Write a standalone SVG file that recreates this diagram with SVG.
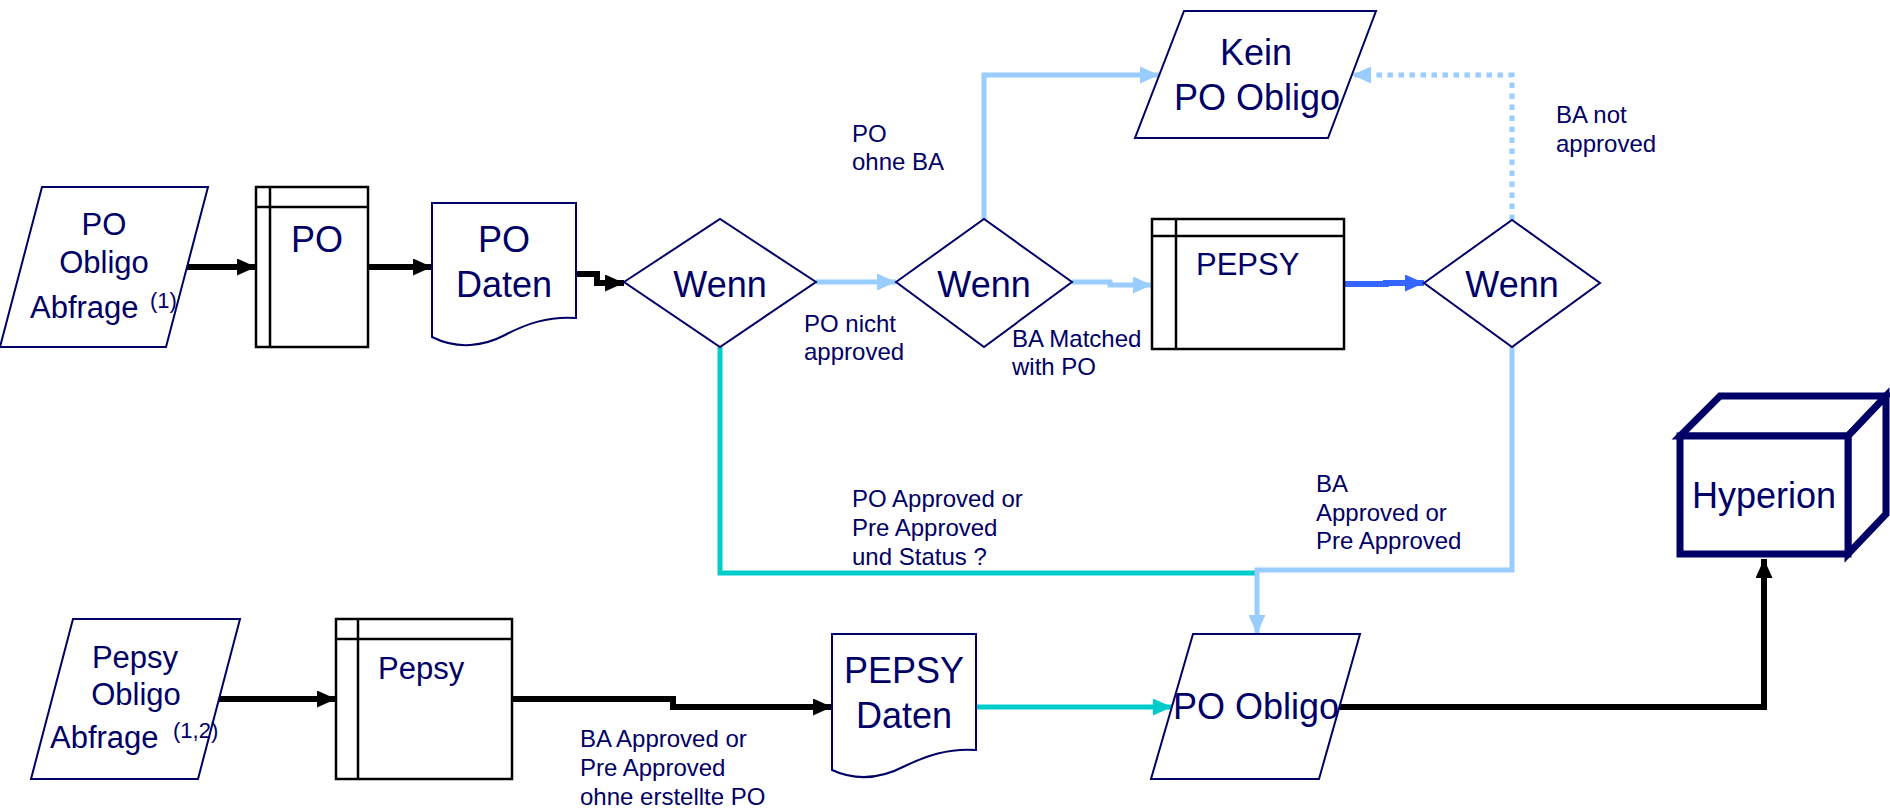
<svg xmlns="http://www.w3.org/2000/svg" width="1890" height="810" viewBox="0 0 1890 810">
<style>
text{font-family:"Liberation Sans",Arial,sans-serif;fill:#000066}
.big{font-size:36px}
.mid{font-size:31px}
.lab{font-size:24px}
.sup{font-size:22px}
.shape{fill:#fff;stroke:#000066;stroke-width:2}
.tbl{fill:#fff;stroke:#000;stroke-width:2.5}
.tl{stroke:#000;stroke-width:2.5;fill:none}
.c{fill:none;stroke-linejoin:miter}
.blk{stroke:#000;stroke-width:6}
.lb{stroke:#99CCFF;stroke-width:5}
.db{stroke:#3366FF;stroke-width:6}
.tq{stroke:#00CCCC;stroke-width:5}
.dot{stroke-dasharray:5.5 5.5}
</style>
<defs>
<marker id="ab" viewBox="0 0 19 17" refX="19" refY="8.5" markerWidth="19" markerHeight="17" markerUnits="userSpaceOnUse" orient="auto"><path d="M0,0 L19,8.5 L0,17 z" fill="#000"/></marker>
<marker id="al" viewBox="0 0 19 17" refX="19" refY="8.5" markerWidth="19" markerHeight="17" markerUnits="userSpaceOnUse" orient="auto"><path d="M0,0 L19,8.5 L0,17 z" fill="#99CCFF"/></marker>
<marker id="ad" viewBox="0 0 19 17" refX="19" refY="8.5" markerWidth="19" markerHeight="17" markerUnits="userSpaceOnUse" orient="auto"><path d="M0,0 L19,8.5 L0,17 z" fill="#3366FF"/></marker>
<marker id="at" viewBox="0 0 19 17" refX="19" refY="8.5" markerWidth="19" markerHeight="17" markerUnits="userSpaceOnUse" orient="auto"><path d="M0,0 L19,8.5 L0,17 z" fill="#00CCCC"/></marker>
</defs>

<g id="connectors">
<path class="c blk" d="M187,267 H256" marker-end="url(#ab)"/>
<path class="c blk" d="M368,267 H432" marker-end="url(#ab)"/>
<path class="c blk" d="M576,274 H597 V283 H624" marker-end="url(#ab)"/>
<path class="c lb" d="M816,282 H896" marker-end="url(#al)"/>
<path class="c lb" d="M1072,282 H1110 V285 H1152" marker-end="url(#al)"/>
<path class="c lb" d="M984,219 V75 H1159" marker-end="url(#al)"/>
<path class="c db" d="M1344,284 H1386 V283 H1424" marker-end="url(#ad)"/>
<path class="c lb dot" d="M1512,220 V75 H1352" marker-end="url(#al)"/>
<path class="c tq" d="M720,347 V573 H1257"/>
<path class="c lb" d="M1512,347 V570 H1257 V634" marker-end="url(#al)"/>
<path class="c blk" d="M219,699 H336" marker-end="url(#ab)"/>
<path class="c blk" d="M512,699 H673 V707 H832" marker-end="url(#ab)"/>
<path class="c tq" d="M976,707 H1172" marker-end="url(#at)"/>
<path class="c blk" d="M1339,707 H1764 V559" marker-end="url(#ab)"/>
</g>

<g id="labels">
<text class="lab" x="804" y="332">PO nicht</text>
<text class="lab" x="804" y="360">approved</text>
<text class="lab" x="852" y="142">PO</text>
<text class="lab" x="852" y="170">ohne BA</text>
<text class="lab" x="1012" y="347">BA Matched</text>
<text class="lab" x="1012" y="375">with PO</text>
<text class="lab" x="1556" y="123">BA not</text>
<text class="lab" x="1556" y="152">approved</text>
<text class="lab" x="852" y="507">PO Approved or</text>
<text class="lab" x="852" y="536">Pre Approved</text>
<text class="lab" x="852" y="565">und Status ?</text>
<text class="lab" x="1316" y="492">BA</text>
<text class="lab" x="1316" y="521">Approved or</text>
<text class="lab" x="1316" y="549">Pre Approved</text>
<text class="lab" x="580" y="747">BA Approved or</text>
<text class="lab" x="580" y="776">Pre Approved</text>
<text class="lab" x="580" y="805">ohne erstellte PO</text>
</g>

<g id="po-obligo-abfrage">
<polygon class="shape" points="42,187 208,187 166,347 0,347"/>
<text class="mid" x="104" y="235" text-anchor="middle">PO</text>
<text class="mid" x="104" y="273" text-anchor="middle">Obligo</text>
<text class="mid" x="30" y="318">Abfrage</text>
<text class="sup" x="150" y="308">(1)</text>
</g>

<g id="po-table">
<rect class="tbl" x="256" y="187" width="112" height="160"/>
<path class="tl" d="M270,187 V347 M256,207 H368"/>
<text class="big" x="317" y="252" text-anchor="middle">PO</text>
</g>

<g id="po-daten">
<path class="shape" d="M432,203 H576 V318 C548,316 526,324 505,335 C484,346 458,350 432,337 Z"/>
<text class="big" x="504" y="252" text-anchor="middle">PO</text>
<text class="big" x="504" y="297" text-anchor="middle">Daten</text>
</g>

<g id="wenn1">
<polygon class="shape" points="624,282 720,219 816,282 720,347"/>
<text class="big" x="720" y="297" text-anchor="middle">Wenn</text>
</g>

<g id="wenn2">
<polygon class="shape" points="896,282 984,219 1072,282 984,347"/>
<text class="big" x="984" y="297" text-anchor="middle">Wenn</text>
</g>

<g id="kein-po-obligo">
<polygon class="shape" points="1184,11 1376,11 1328,138 1135,138"/>
<text class="big" x="1256" y="65" text-anchor="middle">Kein</text>
<text class="big" x="1257" y="110" text-anchor="middle">PO Obligo</text>
</g>

<g id="pepsy-table">
<rect class="tbl" x="1152" y="219" width="192" height="130"/>
<path class="tl" d="M1176,219 V349 M1152,236 H1344"/>
<text class="mid" x="1196" y="275">PEPSY</text>
</g>

<g id="wenn3">
<polygon class="shape" points="1424,283 1512,220 1600,283 1512,347"/>
<text class="big" x="1512" y="297" text-anchor="middle">Wenn</text>
</g>

<g id="pepsy-obligo-abfrage">
<polygon class="shape" points="73,619 240,619 198,779 31,779"/>
<text class="mid" x="135" y="668" text-anchor="middle">Pepsy</text>
<text class="mid" x="136" y="705" text-anchor="middle">Obligo</text>
<text class="mid" x="50" y="748">Abfrage</text>
<text class="sup" x="173" y="738">(1,2)</text>
</g>

<g id="pepsy-table-2">
<rect class="tbl" x="336" y="619" width="176" height="160"/>
<path class="tl" d="M358,619 V779 M336,639 H512"/>
<text class="mid" x="378" y="679">Pepsy</text>
</g>

<g id="pepsy-daten">
<path class="shape" d="M832,634 H976 V750 C948,748 926,756 905,766 C884,777 858,782 832,770 Z"/>
<text class="big" x="904" y="683" text-anchor="middle">PEPSY</text>
<text class="big" x="904" y="728" text-anchor="middle">Daten</text>
</g>

<g id="po-obligo">
<polygon class="shape" points="1193,634 1360,634 1319,779 1151,779"/>
<text class="big" x="1256" y="719" text-anchor="middle">PO Obligo</text>
</g>

<g id="hyperion">
<g fill="#fff" stroke="#000066" stroke-width="7" stroke-linejoin="miter">
<polygon points="1680,436 1720,396 1886,396 1848,436"/>
<polygon points="1848,436 1886,396 1886,514 1848,554"/>
<rect x="1680" y="436" width="168" height="118"/>
</g>
<text class="big" x="1764" y="508" text-anchor="middle">Hyperion</text>
</g>
</svg>
